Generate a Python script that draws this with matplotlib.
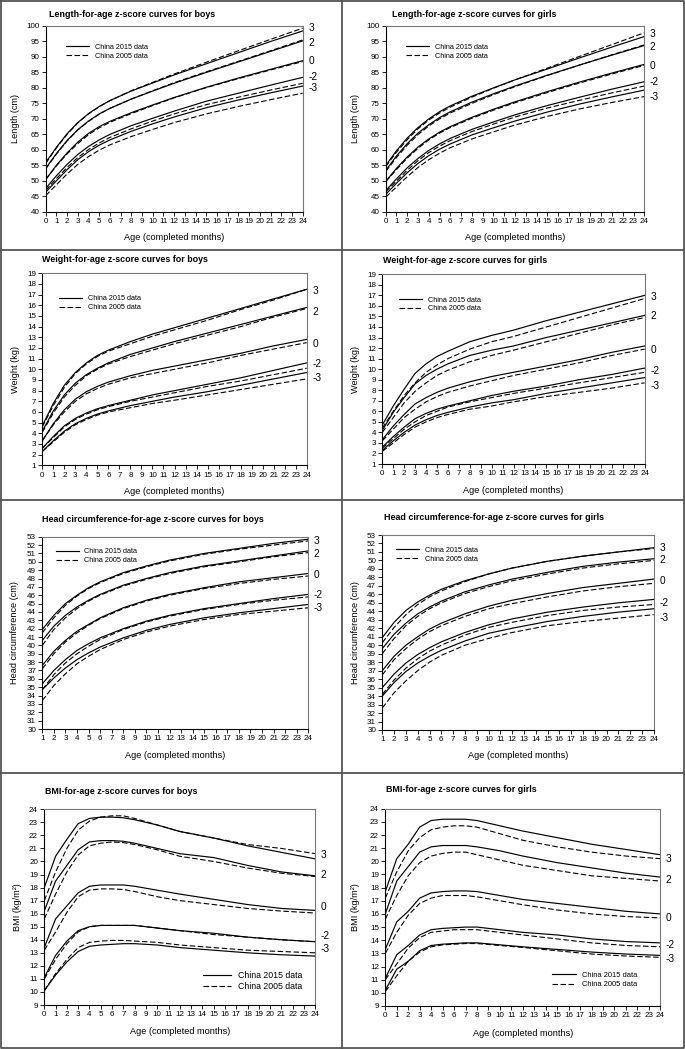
import matplotlib
matplotlib.use("Agg")
import matplotlib.pyplot as plt
from matplotlib.lines import Line2D

plt.rcParams['font.family'] = ['Liberation Sans', 'DejaVu Sans']

W, H = 685, 1049

# ---- data ----
z_scores = [3, 2, 0, -2, -3]
z_labels = ['3', '2', '0', '-2', '-3']

age_lw = [0, 1, 2, 3, 4, 5, 6, 8, 10, 12, 15, 18, 21, 24]
age_hc = [1, 2, 3, 4, 5, 6, 8, 10, 12, 15, 18, 21, 24]
age_bmi = [0, 1, 2, 3, 4, 5, 6, 7, 8, 10, 12, 15, 18, 21, 24]

# length-for-age, boys
len_boys_2015 = {
    3: [55.9, 60.8, 65.2, 68.8, 71.7, 74.0, 75.9, 79.0, 81.6, 84.2, 87.8, 91.4, 95.0, 98.4],
    2: [54.0, 58.8, 63.0, 66.5, 69.3, 71.6, 73.4, 76.4, 79.0, 81.5, 85.0, 88.4, 91.8, 95.2],
    0: [50.4, 55.0, 59.0, 62.5, 65.3, 67.5, 69.2, 72.0, 74.5, 76.9, 80.2, 83.2, 86.0, 88.8],
    -2: [47.5, 51.6, 55.3, 58.5, 61.1, 63.2, 65.0, 67.8, 70.2, 72.5, 75.7, 78.3, 80.9, 83.4],
    -3: [46.3, 50.0, 53.6, 56.8, 59.4, 61.5, 63.2, 66.0, 68.4, 70.6, 73.6, 76.1, 78.4, 80.6],
}
len_boys_2005 = {
    3: [55.6, 60.6, 65.0, 68.7, 71.6, 73.9, 75.9, 79.1, 81.8, 84.5, 88.3, 92.0, 95.7, 99.3],
    2: [53.8, 58.6, 62.9, 66.4, 69.2, 71.5, 73.4, 76.4, 79.1, 81.7, 85.2, 88.6, 92.0, 95.5],
    0: [50.4, 54.8, 58.7, 62.0, 64.9, 67.1, 68.9, 71.7, 74.3, 76.8, 80.1, 83.0, 85.8, 88.5],
    -2: [46.9, 50.7, 54.3, 57.5, 60.1, 62.2, 64.0, 66.8, 69.3, 71.6, 74.6, 77.0, 79.3, 81.5],
    -3: [45.2, 48.7, 52.2, 55.3, 57.8, 59.9, 61.6, 64.3, 66.6, 68.8, 71.6, 74.0, 76.2, 78.3],
}
# length-for-age, girls
len_girls_2015 = {
    3: [54.9, 59.7, 63.8, 67.2, 70.0, 72.3, 74.2, 77.3, 80.0, 82.6, 86.1, 89.7, 93.2, 96.6],
    2: [53.3, 58.0, 62.0, 65.4, 68.1, 70.4, 72.3, 75.4, 78.1, 80.6, 84.1, 87.4, 90.6, 93.7],
    0: [49.8, 54.0, 57.7, 60.9, 63.5, 65.7, 67.5, 70.5, 73.1, 75.5, 78.8, 81.9, 84.8, 87.6],
    -2: [46.8, 50.6, 54.2, 57.2, 59.8, 61.9, 63.7, 66.6, 69.0, 71.3, 74.3, 77.0, 79.6, 82.0],
    -3: [45.6, 49.2, 52.6, 55.6, 58.1, 60.2, 61.9, 64.8, 67.1, 69.3, 72.2, 74.8, 77.1, 79.3],
}
len_girls_2005 = {
    3: [54.6, 59.2, 63.3, 66.8, 69.6, 71.9, 73.8, 77.0, 79.9, 82.6, 86.4, 90.2, 94.0, 97.8],
    2: [53.0, 57.5, 61.5, 64.9, 67.7, 70.0, 71.9, 75.0, 77.8, 80.4, 84.0, 87.4, 90.7, 93.9],
    0: [49.7, 53.6, 57.3, 60.5, 63.2, 65.4, 67.2, 70.2, 72.8, 75.2, 78.5, 81.6, 84.5, 87.3],
    -2: [46.4, 49.9, 53.4, 56.5, 59.1, 61.2, 63.0, 65.9, 68.3, 70.6, 73.5, 76.0, 78.4, 80.6],
    -3: [44.7, 48.0, 51.3, 54.3, 56.8, 58.9, 60.7, 63.5, 65.8, 68.0, 70.8, 73.2, 75.3, 77.2],
}

# weight-for-age, boys
wt_boys_2015 = {
    3: [4.7, 6.8, 8.5, 9.7, 10.6, 11.3, 11.8, 12.6, 13.3, 13.9, 14.8, 15.7, 16.6, 17.5],
    2: [4.2, 6.1, 7.6, 8.7, 9.5, 10.1, 10.6, 11.4, 12.0, 12.6, 13.4, 14.2, 15.0, 15.8],
    0: [3.3, 4.9, 6.2, 7.2, 7.9, 8.4, 8.8, 9.4, 9.9, 10.3, 10.9, 11.5, 12.2, 12.8],
    -2: [2.6, 3.7, 4.7, 5.4, 5.9, 6.3, 6.6, 7.1, 7.6, 8.0, 8.6, 9.2, 9.9, 10.6],
    -3: [2.3, 3.3, 4.2, 4.9, 5.4, 5.8, 6.1, 6.6, 7.0, 7.4, 7.9, 8.5, 9.1, 9.7],
}
wt_boys_2005 = {
    3: [4.6, 6.6, 8.3, 9.6, 10.5, 11.2, 11.7, 12.4, 13.1, 13.7, 14.6, 15.6, 16.5, 17.5],
    2: [4.1, 5.9, 7.4, 8.5, 9.4, 10.0, 10.5, 11.2, 11.8, 12.4, 13.2, 14.0, 14.9, 15.7],
    0: [3.3, 4.8, 6.0, 7.0, 7.7, 8.2, 8.6, 9.2, 9.6, 10.0, 10.6, 11.3, 11.9, 12.5],
    -2: [2.6, 3.6, 4.6, 5.3, 5.8, 6.2, 6.5, 7.0, 7.4, 7.8, 8.4, 8.9, 9.5, 10.1],
    -3: [2.3, 3.2, 4.1, 4.8, 5.3, 5.7, 6.0, 6.4, 6.8, 7.1, 7.6, 8.1, 8.6, 9.1],
}
# weight-for-age, girls
wt_girls_2015 = {
    3: [4.7, 6.5, 8.1, 9.6, 10.5, 11.2, 11.7, 12.6, 13.2, 13.7, 14.6, 15.4, 16.2, 17.0],
    2: [4.2, 5.9, 7.3, 8.6, 9.4, 10.0, 10.5, 11.3, 11.8, 12.2, 13.0, 13.7, 14.4, 15.1],
    0: [3.3, 4.6, 5.7, 6.7, 7.3, 7.8, 8.2, 8.8, 9.3, 9.7, 10.3, 10.9, 11.6, 12.2],
    -2: [2.6, 3.6, 4.5, 5.3, 5.8, 6.2, 6.5, 7.0, 7.5, 7.9, 8.4, 9.0, 9.5, 10.1],
    -3: [2.3, 3.2, 4.0, 4.7, 5.2, 5.6, 5.9, 6.4, 6.8, 7.1, 7.7, 8.2, 8.7, 9.2],
}
wt_girls_2005 = {
    3: [4.4, 6.0, 7.5, 8.7, 9.7, 10.4, 11.0, 11.9, 12.6, 13.1, 14.0, 14.9, 15.8, 16.7],
    2: [4.0, 5.4, 6.8, 7.9, 8.7, 9.4, 9.9, 10.7, 11.3, 11.8, 12.6, 13.4, 14.2, 14.9],
    0: [3.2, 4.3, 5.4, 6.2, 6.9, 7.4, 7.8, 8.4, 8.9, 9.4, 10.0, 10.6, 11.3, 11.9],
    -2: [2.5, 3.4, 4.3, 5.0, 5.6, 6.0, 6.4, 6.9, 7.3, 7.7, 8.2, 8.7, 9.2, 9.7],
    -3: [2.2, 3.0, 3.8, 4.5, 5.0, 5.4, 5.7, 6.2, 6.5, 6.9, 7.4, 7.8, 8.2, 8.7],
}

# head circumference-for-age, boys
hc_boys_2015 = {
    3: [41.9, 43.6, 45.0, 46.0, 46.9, 47.6, 48.7, 49.5, 50.2, 51.0, 51.6, 52.2, 52.7],
    2: [40.6, 42.3, 43.6, 44.6, 45.4, 46.1, 47.2, 48.0, 48.7, 49.5, 50.1, 50.7, 51.3],
    0: [37.6, 39.3, 40.6, 41.7, 42.5, 43.3, 44.5, 45.4, 46.1, 46.9, 47.6, 48.1, 48.6],
    -2: [35.4, 37.0, 38.3, 39.4, 40.2, 40.9, 42.0, 42.9, 43.6, 44.4, 45.0, 45.6, 46.1],
    -3: [34.7, 36.1, 37.3, 38.3, 39.1, 39.8, 40.9, 41.8, 42.5, 43.3, 43.9, 44.4, 44.9],
}
hc_boys_2005 = {
    3: [41.5, 43.3, 44.8, 45.9, 46.8, 47.5, 48.6, 49.4, 50.1, 50.9, 51.5, 52.0, 52.5],
    2: [40.0, 41.9, 43.3, 44.4, 45.3, 46.0, 47.1, 47.9, 48.6, 49.4, 50.0, 50.6, 51.1],
    0: [37.2, 39.0, 40.4, 41.5, 42.4, 43.2, 44.4, 45.3, 46.0, 46.8, 47.4, 47.9, 48.3],
    -2: [34.7, 36.5, 37.9, 39.0, 39.9, 40.7, 41.9, 42.8, 43.5, 44.3, 44.9, 45.4, 45.8],
    -3: [33.4, 35.2, 36.6, 37.8, 38.7, 39.5, 40.7, 41.6, 42.3, 43.1, 43.7, 44.1, 44.5],
}
# head circumference-for-age, girls
hc_girls_2015 = {
    3: [40.9, 42.7, 44.1, 45.1, 45.9, 46.6, 47.6, 48.4, 49.1, 49.9, 50.5, 51.0, 51.5],
    2: [39.6, 41.3, 42.6, 43.7, 44.5, 45.2, 46.3, 47.1, 47.8, 48.6, 49.3, 49.8, 50.2],
    0: [37.0, 38.7, 40.0, 41.0, 41.9, 42.6, 43.7, 44.6, 45.3, 46.1, 46.8, 47.3, 47.8],
    -2: [35.0, 36.6, 37.9, 38.9, 39.7, 40.4, 41.5, 42.4, 43.1, 43.9, 44.5, 45.0, 45.4],
    -3: [34.0, 35.6, 36.9, 37.9, 38.7, 39.4, 40.5, 41.4, 42.0, 42.8, 43.4, 43.9, 44.3],
}
hc_girls_2005 = {
    3: [40.3, 42.1, 43.6, 44.8, 45.7, 46.4, 47.5, 48.4, 49.1, 49.9, 50.5, 51.0, 51.4],
    2: [39.0, 40.8, 42.3, 43.4, 44.3, 45.0, 46.1, 46.9, 47.6, 48.4, 49.1, 49.6, 50.0],
    0: [36.5, 38.3, 39.6, 40.7, 41.6, 42.3, 43.4, 44.3, 44.9, 45.7, 46.4, 46.9, 47.3],
    -2: [34.2, 35.9, 37.3, 38.4, 39.3, 40.0, 41.2, 42.1, 42.7, 43.5, 44.1, 44.5, 44.8],
    -3: [32.6, 34.4, 35.8, 37.0, 38.0, 38.8, 40.0, 40.8, 41.5, 42.3, 42.8, 43.2, 43.6],
}

# BMI-for-age, boys
bmi_boys_2015 = {
    3: [18.0, 20.4, 21.7, 22.9, 23.3, 23.4, 23.4, 23.35, 23.2, 22.8, 22.3, 21.8, 21.2, 20.7, 20.2],
    2: [16.2, 18.5, 19.7, 20.9, 21.5, 21.6, 21.6, 21.55, 21.4, 21.0, 20.6, 20.3, 19.7, 19.2, 18.9],
    0: [13.4, 15.6, 16.6, 17.6, 18.1, 18.2, 18.2, 18.2, 18.1, 17.8, 17.5, 17.1, 16.7, 16.4, 16.25],
    -2: [11.1, 12.8, 13.9, 14.7, 15.0, 15.1, 15.1, 15.1, 15.1, 14.9, 14.7, 14.5, 14.2, 14.0, 13.85],
    -3: [10.1, 11.3, 12.3, 13.1, 13.5, 13.6, 13.65, 13.7, 13.7, 13.6, 13.4, 13.2, 13.0, 12.85, 12.75],
}
bmi_boys_2005 = {
    3: [17.0, 19.2, 21.0, 22.4, 23.1, 23.4, 23.5, 23.5, 23.3, 22.8, 22.3, 21.8, 21.3, 21.0, 20.6],
    2: [15.6, 17.5, 19.2, 20.5, 21.2, 21.4, 21.5, 21.45, 21.3, 20.9, 20.4, 20.0, 19.5, 19.1, 18.85],
    0: [13.2, 14.6, 16.1, 17.3, 17.8, 17.9, 17.9, 17.85, 17.7, 17.3, 17.0, 16.7, 16.4, 16.2, 16.05],
    -2: [11.0, 12.5, 13.7, 14.6, 15.0, 15.1, 15.1, 15.1, 15.1, 14.9, 14.7, 14.4, 14.2, 14.0, 13.85],
    -3: [10.1, 11.4, 12.5, 13.4, 13.8, 13.9, 13.95, 13.95, 13.9, 13.8, 13.6, 13.4, 13.2, 13.1, 13.0],
}
# BMI-for-age, girls
bmi_girls_2015 = {
    3: [17.7, 20.2, 21.3, 22.6, 23.1, 23.2, 23.2, 23.2, 23.1, 22.7, 22.3, 21.8, 21.3, 20.9, 20.5],
    2: [16.0, 18.5, 19.6, 20.7, 21.1, 21.2, 21.2, 21.2, 21.1, 20.8, 20.4, 19.9, 19.5, 19.1, 18.8],
    0: [13.3, 15.4, 16.2, 17.2, 17.6, 17.7, 17.75, 17.75, 17.7, 17.4, 17.1, 16.8, 16.5, 16.2, 16.0],
    -2: [11.1, 12.9, 13.6, 14.4, 14.8, 14.9, 14.95, 15.0, 15.0, 14.8, 14.6, 14.4, 14.1, 13.9, 13.8],
    -3: [10.2, 11.8, 12.4, 13.2, 13.6, 13.7, 13.75, 13.8, 13.8, 13.65, 13.5, 13.3, 13.1, 12.95, 12.85],
}
bmi_girls_2005 = {
    3: [17.2, 19.2, 20.8, 21.8, 22.4, 22.6, 22.7, 22.7, 22.6, 22.1, 21.6, 21.1, 20.7, 20.4, 20.2],
    2: [15.6, 17.4, 18.9, 19.9, 20.4, 20.6, 20.7, 20.7, 20.5, 20.1, 19.7, 19.3, 18.9, 18.7, 18.5],
    0: [13.0, 14.6, 15.9, 16.8, 17.2, 17.4, 17.4, 17.4, 17.3, 17.0, 16.7, 16.3, 16.0, 15.8, 15.7],
    -2: [11.0, 12.2, 13.4, 14.2, 14.6, 14.7, 14.8, 14.8, 14.8, 14.6, 14.4, 14.1, 13.8, 13.6, 13.5],
    -3: [10.1, 11.3, 12.4, 13.1, 13.5, 13.65, 13.7, 13.75, 13.75, 13.6, 13.45, 13.2, 12.95, 12.8, 12.7],
}


def px_rect(left, top, right, bottom):
    """pixel box (top-left origin) -> figure fraction rect"""
    return [left / W, 1 - bottom / H, (right - left) / W, (bottom - top) / H]


panels = [
    dict(title='Length-for-age z-score curves for boys', ylabel='Length (cm)', ages=age_lw,
         d15=len_boys_2015, d05=len_boys_2005, ylim=(40, 100), ystep=5, xlim=(0, 24),
         box=(45.7, 26, 302.7, 211.7), tpos=(49, 14.5), ylx=15, xly=237,
         leg=(0.079, 0.905), lab_y=[99.2, 94.6, 88.7, 83.6, 79.9], lfs=5.2),
    dict(title='Length-for-age z-score curves for girls', ylabel='Length (cm)', ages=age_lw,
         d15=len_girls_2015, d05=len_girls_2005, ylim=(40, 100), ystep=5, xlim=(0, 24),
         box=(385.7, 26, 644.3, 211.7), tpos=(392, 14.5), ylx=356, xly=237,
         leg=(0.078, 0.905), lab_y=[97.3, 93.3, 87.1, 81.8, 77.2], lfs=5.2),
    dict(title='Weight-for-age z-score curves for boys', ylabel='Weight (kg)', ages=age_lw,
         d15=wt_boys_2015, d05=wt_boys_2005, ylim=(1, 19), ystep=1, xlim=(0, 24),
         box=(42.3, 273.3, 306.7, 465.3), tpos=(42, 259), ylx=15, xly=492,
         leg=(0.063, 0.885), lab_y=[17.3, 15.4, 12.4, 10.5, 9.2], lfs=5.2),
    dict(title='Weight-for-age z-score curves for girls', ylabel='Weight (kg)', ages=age_lw,
         d15=wt_girls_2015, d05=wt_girls_2005, ylim=(1, 19), ystep=1, xlim=(0, 24),
         box=(382.3, 274.3, 644.7, 464), tpos=(383, 260.5), ylx=356, xly=490,
         leg=(0.064, 0.883), lab_y=[16.8, 15.0, 11.8, 9.8, 8.4], lfs=5.2),
    dict(title='Head circumference-for-age z-score curves for boys', ylabel='Head circumference (cm)',
         ages=age_hc, d15=hc_boys_2015, d05=hc_boys_2005, ylim=(30, 53), ystep=1, xlim=(1, 24),
         box=(42.3, 536.7, 308.3, 729), tpos=(42, 519.3), ylx=15, xly=755,
         leg=(0.05, 0.94), lab_y=[52.5, 50.9, 48.4, 46.0, 44.5], lfs=5.2),
    dict(title='Head circumference-for-age z-score curves for girls', ylabel='Head circumference (cm)',
         ages=age_hc, d15=hc_girls_2015, d05=hc_girls_2005, ylim=(30, 53), ystep=1, xlim=(1, 24),
         box=(382.3, 535, 653.7, 730), tpos=(384, 517.7), ylx=356, xly=756,
         leg=(0.05, 0.94), lab_y=[51.5, 50.0, 47.6, 45.0, 43.2], lfs=5.2),
    dict(title='BMI-for-age z-score curves for boys', ylabel='BMI (kg/m²)', ages=age_bmi,
         d15=bmi_boys_2015, d05=bmi_boys_2005, ylim=(9, 24), ystep=1, xlim=(0, 24),
         box=(44.3, 809.3, 315.3, 1005), tpos=(45.3, 791.7), ylx=18, xly=1032,
         leg=(0.586, 0.175), lab_y=[20.5, 19.0, 16.5, 14.3, 13.3], lfs=6.3),
    dict(title='BMI-for-age z-score curves for girls', ylabel='BMI (kg/m²)', ages=age_bmi,
         d15=bmi_girls_2015, d05=bmi_girls_2005, ylim=(9, 24), ystep=1, xlim=(0, 24),
         box=(385.3, 808.7, 660.3, 1006), tpos=(386.3, 790), ylx=356, xly=1034,
         leg=(0.606, 0.173), lab_y=[20.2, 18.6, 15.7, 13.6, 12.6], lfs=5.4),
]

fig = plt.figure(figsize=(W / 100, H / 100), dpi=100)

for p in panels:
    l, t, r, b = p['box']
    ax = fig.add_axes(px_rect(l, t, r, b))
    for z in z_scores:
        ax.plot(p['ages'], p['d15'][z], color='black', lw=0.85, solid_joinstyle='round')
        ax.plot(p['ages'], p['d05'][z], color='black', lw=0.8, dashes=(5, 2.2))
    ax.set_xlim(*p['xlim'])
    ax.set_ylim(*p['ylim'])
    ax.set_xticks(range(p['xlim'][0], p['xlim'][1] + 1))
    ax.set_yticks(range(p['ylim'][0], p['ylim'][1] + 1, p['ystep']))
    ax.tick_params(direction='out', length=3, width=0.6, labelsize=5.8, pad=1.5, color='black')
    for side in ['left', 'bottom']:
        ax.spines[side].set_linewidth(0.8)
    for side in ['top', 'right']:
        ax.spines[side].set_linewidth(0.8)
        ax.spines[side].set_color('#777777')

    # z-score labels on the right
    for lab, yv in zip(z_labels, p['lab_y']):
        ax.annotate(lab, xy=(1, yv), xycoords=('axes fraction', 'data'),
                    xytext=(4, 0), textcoords='offset points',
                    ha='left', va='center', fontsize=7.3, annotation_clip=False)

    handles = [Line2D([], [], color='black', lw=0.85),
               Line2D([], [], color='black', lw=0.8, dashes=(5, 2.2))]
    ax.legend(handles, ['China 2015 data', 'China 2005 data'], loc='upper left',
              bbox_to_anchor=p['leg'], frameon=False, fontsize=p['lfs'],
              handlelength=3.2, handletextpad=0.8, labelspacing=0.25,
              borderpad=0, borderaxespad=0)

    fig.text(p['tpos'][0] / W, 1 - p['tpos'][1] / H, p['title'], fontsize=6.4,
             fontweight='bold', ha='left', va='center')
    fig.text(p['ylx'] / W, 1 - ((t + b) / 2) / H, p['ylabel'], fontsize=6.6,
             rotation=90, ha='center', va='center')
    fig.text(((l + r) / 2) / W, 1 - p['xly'] / H, 'Age (completed months)', fontsize=6.6,
             ha='center', va='center')

# panel frames
frame_kw = dict(color='#555555', lw=1.3, transform=fig.transFigure)
for yy in [250, 500, 773]:
    fig.add_artist(Line2D([0, 1], [1 - yy / H, 1 - yy / H], **frame_kw))
fig.add_artist(Line2D([342 / W, 342 / W], [0, 1], **frame_kw))
fig.add_artist(Line2D([0.001, 0.999, 0.999, 0.001, 0.001], [0.999, 0.999, 0.001, 0.001, 0.999], **frame_kw))

fig.savefig('out.png', dpi=100)
